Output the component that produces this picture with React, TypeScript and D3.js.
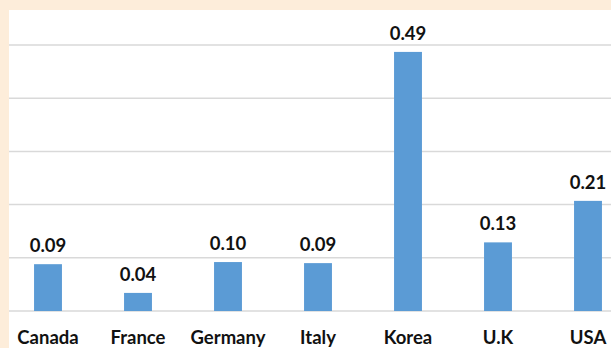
import React from "react";
import * as d3 from "d3";

const categories = ["Canada", "France", "Germany", "Italy", "Korea", "U.K", "USA"];
const values = [0.088, 0.034, 0.092, 0.09, 0.487, 0.129, 0.207];
const valueLabels = ["0.09", "0.04", "0.10", "0.09", "0.49", "0.13", "0.21"];
const gridTicks = [0, 0.1, 0.2, 0.3, 0.4, 0.5];

export default function App() {
  const W = 611, H = 348;
  const x = d3.scaleBand<string>().domain(categories).range([3, 633]).paddingInner(0.69).paddingOuter(0.345);
  const y = d3.scaleLinear().domain([0, 0.5]).range([311, 45]);
  const font = "Lato, 'Open Sans', sans-serif";
  return (
    <div style={{ position: "fixed", left: 0, top: 0 }}>
      <svg width={W} height={H} style={{ display: "block" }}>
        <rect x={0} y={0} width={W} height={H} fill="#FDEDDA" />
        <rect x={9} y={10} width={W - 9} height={H - 10} fill="#ffffff" />
        {gridTicks.map((t) => (
          <line key={t} x1={9} x2={W} y1={y(t)} y2={y(t)} stroke="#d9d9d9" strokeWidth={1.5} />
        ))}
        {categories.map((c, i) => (
          <g key={c}>
            <rect x={x(c)} y={y(values[i])} width={x.bandwidth()} height={y(0) - y(values[i])} fill="#5B9BD5" />
            <text x={(x(c) as number) + x.bandwidth() / 2} y={y(values[i]) - 12} textAnchor="middle"
              fontFamily={font} fontWeight={700} fontSize={18.5} fill="#111">{valueLabels[i]}</text>
            <text x={(x(c) as number) + x.bandwidth() / 2} y={344} textAnchor="middle"
              fontFamily={font} fontWeight={700} fontSize={18.5} fill="#111">{c}</text>
          </g>
        ))}
      </svg>
    </div>
  );
}
